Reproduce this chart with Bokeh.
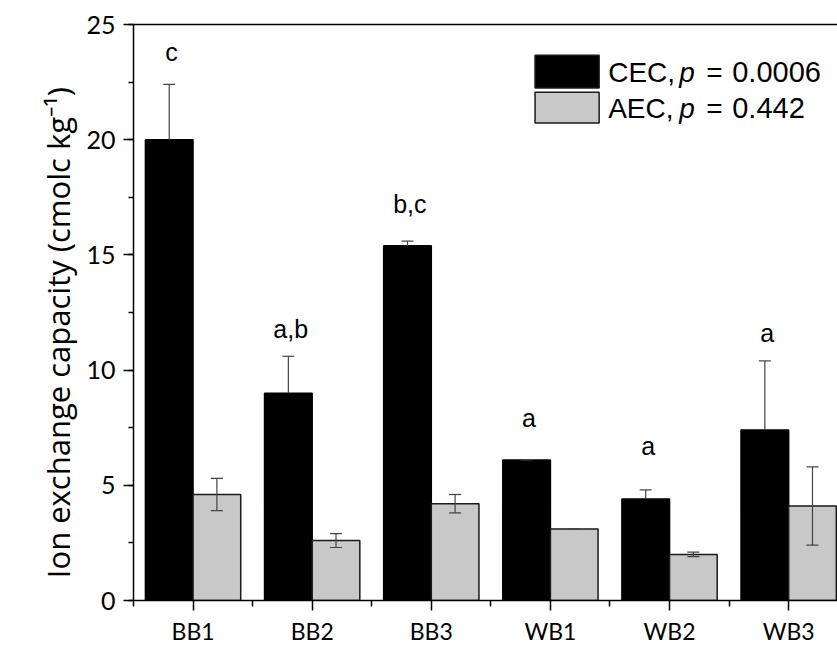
from bokeh.plotting import figure
from bokeh.models import (ColumnDataSource, Range1d, FixedTicker, SingleIntervalTicker,
                          LinearAxis, Whisker, TeeHead)
from bokeh.core.properties import value
from bokeh.embed import file_html
from bokeh.resources import INLINE

# ---- data ----
categories = ["BB1", "BB2", "BB3", "WB1", "WB2", "WB3"]
cec = [20.0, 9.0, 15.4, 6.1, 4.4, 7.4]
cec_err = [2.4, 1.6, 0.2, 0.0, 0.4, 3.0]
aec = [4.6, 2.6, 4.2, 3.1, 2.0, 4.1]
aec_err = [0.7, 0.3, 0.4, 0.0, 0.1, 1.7]
letters = ["c", "a,b", "b,c", "a", "a", "a"]
letter_y = [23.8, 11.8, 17.2, 7.9, 6.7, 11.6]
legend_labels = ["CEC,", "AEC,"]
legend_p = ["0.0006", "0.442"]
y_title = "Ion exchange capacity (cmolc kg\u207b\u00b9)"

idx = list(range(1, len(categories) + 1))
TICK_FONT = "Lato"
TITLE_FONT = "Open Sans"
TEXT_FONT = "Liberation Sans"

p = figure(width=837, height=647, output_backend="svg", toolbar_location=None,
           x_range=Range1d(0.5, 6.41), y_range=Range1d(0, 25),
           min_border_left=133, min_border_bottom=44, min_border_top=24,
           min_border_right=0)
p.outline_line_color = None
p.grid.visible = False
p.background_fill_color = "white"

cec_src = ColumnDataSource(dict(
    x=[i - 0.2 for i in idx], top=cec,
    lower=cec, upper=[v + e for v, e in zip(cec, cec_err)]))
aec_src = ColumnDataSource(dict(
    x=[i + 0.2 for i in idx], top=aec,
    lower=[v - e for v, e in zip(aec, aec_err)],
    upper=[v + e for v, e in zip(aec, aec_err)]))

p.vbar(x="x", top="top", bottom=0, width=0.4, source=cec_src,
       fill_color="black", line_color="black", line_width=1.5)
p.vbar(x="x", top="top", bottom=0, width=0.4, source=aec_src,
       fill_color="#c8c8c8", line_color="#1a1a1a", line_width=1.5)

wc = "#444444"
w1 = Whisker(source=cec_src, base="x", lower="lower", upper="upper",
             line_color=wc, line_width=1.2, level="overlay",
             upper_head=TeeHead(size=12, line_color=wc, line_width=1.2),
             lower_head=None)
w2 = Whisker(source=aec_src, base="x", lower="lower", upper="upper",
             line_color=wc, line_width=1.2, level="overlay",
             upper_head=TeeHead(size=12, line_color=wc, line_width=1.2),
             lower_head=TeeHead(size=12, line_color=wc, line_width=1.2))
p.add_layout(w1)
p.add_layout(w2)

# significance letters
p.text(x=[i - 0.18 for i in idx], y=letter_y, text=letters,
       text_font=value(TEXT_FONT), text_font_size="25px",
       text_align="center", text_baseline="middle", text_color="black")

# legend (manual, to allow italic p)
p.quad(left=[3.871, 3.871], right=[4.409, 4.409], top=[23.66, 22.06],
       bottom=[22.24, 20.73], fill_color=["black", "#c8c8c8"],
       line_color="#1a1a1a", line_width=1.5)
ly = [22.93, 21.37]
p.text(x=[4.485, 4.485], y=ly, text=legend_labels, text_font=value(TEXT_FONT),
       text_font_size="28px", text_baseline="middle", text_align="left")
p.text(x=[4.485, 4.485], y=ly, text=["p", "p"], x_offset=71,
       text_font=value(TEXT_FONT), text_font_style="italic",
       text_font_size="28px", text_baseline="middle", text_align="left")
p.text(x=[4.485, 4.485], y=ly, text=["=", "="], x_offset=98,
       text_font=value(TEXT_FONT), text_font_size="28px",
       text_baseline="middle", text_align="left")
p.text(x=[4.485, 4.485], y=ly, text=legend_p, x_offset=124,
       text_font=value(TEXT_FONT), text_font_size="29px",
       text_baseline="middle", text_align="left")

# axes
xa = p.xaxis[0]
xa.ticker = FixedTicker(ticks=idx, minor_ticks=[i - 0.5 for i in idx] + [6.5])
xa.major_label_overrides = {i: c for i, c in zip(idx, categories)}
xa.major_tick_out = 10
xa.major_tick_in = 0
xa.minor_tick_out = 6
xa.minor_tick_in = 0
xa.major_label_standoff = 6
xa.major_label_text_font = TICK_FONT
xa.major_label_text_font_size = "23px"

ya = p.yaxis[0]
ya.ticker = SingleIntervalTicker(interval=5, num_minor_ticks=2)
ya.major_tick_out = 10
ya.major_tick_in = 0
ya.minor_tick_out = 5
ya.minor_tick_in = 0
ya.major_label_standoff = 8
ya.major_label_text_font = TICK_FONT
ya.major_label_text_font_size = "25px"
# trailing no-break spaces shift the visible title slightly down, as in the reference
ya.axis_label = y_title + "\u00a0" * 5
ya.axis_label_text_font = TITLE_FONT
ya.axis_label_text_font_style = "normal"
ya.axis_label_text_font_size = "31px"
ya.axis_label_text_color = "black"
ya.axis_label_standoff = 4

for ax in (xa, ya):
    ax.axis_line_width = 1.5
    ax.major_tick_line_width = 1.5
    ax.minor_tick_line_width = 1.5
    ax.axis_line_color = "black"
    ax.major_label_text_color = "black"

top = LinearAxis(ticker=FixedTicker(ticks=[]), major_label_text_font_size="0px",
                 major_tick_line_color=None, minor_tick_line_color=None,
                 axis_line_width=1.5)
p.add_layout(top, "above")

open("out.html", "w").write(file_html(p, INLINE))
